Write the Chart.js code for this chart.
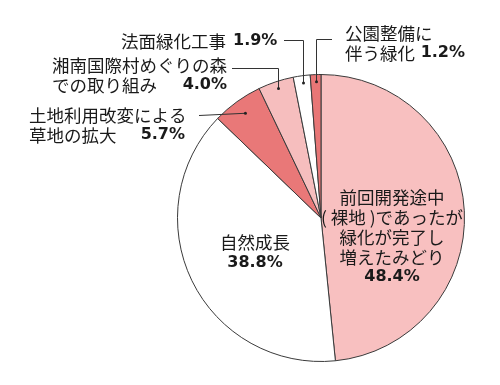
<!DOCTYPE html>
<html>
<head>
<meta charset="utf-8">
<script src="https://cdn.jsdelivr.net/npm/chart.js@4/dist/chart.umd.min.js"></script>
<style>
  html, body { margin: 0; padding: 0; background: #ffffff; }
  #wrap { width: 500px; height: 385px; }
</style>
</head>
<body>
<div id="wrap"><canvas id="pieChart" width="500" height="385"></canvas></div>
<script>
// Data
const categories = [
    '前回開発途中（裸地）であったが緑化が完了し増えたみどり',
    '自然成長',
    '土地利用改変による草地の拡大',
    '湘南国際村めぐりの森での取り組み',
    '法面緑化工事',
    '公園整備に伴う緑化'
];
const shares = [48.4, 38.8, 5.7, 4.0, 1.9, 1.2];
const sliceColors = ['#f8c0c0', '#ffffff', '#e97878', '#f6bebe', '#ffffff', '#e87676'];

const JP = '17.5px "Noto Sans CJK JP", "Noto Sans", sans-serif';
const PCT = 'bold 16px "DejaVu Sans", Verdana, sans-serif';
const INK = '#1a1a1a';

// Label layout (text placement, in canvas pixels)
const labelLayout = [
    { type: 'inside', lines: ['前回開発途中', '( 裸地 )であったが', '緑化が完了し', '増えたみどり'], x: 392, y: 197, step: 20 },
    { type: 'inside', lines: ['自然成長'], x: 255, y: 242, step: 21 },
    { type: 'outside', lines: ['土地利用改変による', '草地の拡大'], x: 29, y: 115, step: 20, pctRight: 185, lineFrom: 199, lineY: 115, elbow: false, dotR: 0.9 },
    { type: 'outside', lines: ['湘南国際村めぐりの森', 'での取り組み'], x: 52, y: 65, step: 20, pctRight: 227, lineFrom: 232, lineY: 68, elbow: true, dotR: 0.95 },
    { type: 'inline', lines: ['法面緑化工事'], x: 121, y: 41, step: 20, pctLeft: 233, lineFrom: 284, lineY: 40, elbow: true, dotR: 0.95 },
    { type: 'outside', lines: ['公園整備に', '伴う緑化'], x: 345, y: 33, step: 20, pctRight: 465, lineFrom: 332, lineY: 39, elbow: true, dotR: 0.95 }
];

const pieLabels = {
    id: 'pieLabels',
    afterDraw(chart) {
        const ctx = chart.ctx;
        const arcs = chart.getDatasetMeta(0).data;
        ctx.save();
        ctx.textBaseline = 'middle';
        ctx.fillStyle = INK;
        ctx.strokeStyle = '#333333';
        ctx.lineWidth = 1;

        labelLayout.forEach((lab, i) => {
            const pct = shares[i].toFixed(1) + '%';
            const arc = arcs[i];

            if (lab.type === 'inside') {
                ctx.textAlign = 'center';
                ctx.font = JP;
                lab.lines.forEach((t, k) => ctx.fillText(t, lab.x, lab.y + k * lab.step));
                ctx.font = PCT;
                ctx.fillText(pct, lab.x, lab.y + lab.lines.length * lab.step);
                return;
            }

            const mid = (arc.startAngle + arc.endAngle) / 2;
            const r = arc.outerRadius * lab.dotR;
            const dotX = arc.x + Math.cos(mid) * r;
            const dotY = arc.y + Math.sin(mid) * r;

            ctx.textAlign = 'left';
            ctx.font = JP;
            lab.lines.forEach((t, k) => ctx.fillText(t, lab.x, lab.y + k * lab.step));
            ctx.font = PCT;
            if (lab.type === 'inline') {
                ctx.fillText(pct, lab.pctLeft, lab.y);
            } else {
                ctx.textAlign = 'right';
                ctx.fillText(pct, lab.pctRight, lab.y + (lab.lines.length - 1) * lab.step);
            }

            // leader line
            const px = lab.elbow ? Math.round(dotX) + 0.5 : dotX;
            ctx.beginPath();
            ctx.moveTo(lab.lineFrom, lab.lineY + 0.5);
            if (lab.elbow) {
                ctx.lineTo(px, lab.lineY + 0.5);
            }
            ctx.lineTo(px, dotY);
            ctx.stroke();
            ctx.beginPath();
            ctx.arc(px, dotY, 1.5, 0, Math.PI * 2);
            ctx.fillStyle = '#222222';
            ctx.fill();
            ctx.fillStyle = INK;
        });
        ctx.restore();
    }
};

new Chart(document.getElementById('pieChart'), {
    type: 'pie',
    data: {
        labels: categories,
        datasets: [{
            data: shares,
            backgroundColor: sliceColors,
            borderColor: '#3a3a3a',
            borderWidth: 1
        }]
    },
    options: {
        responsive: false,
        animation: false,
        layout: { padding: { top: 74, bottom: 23, left: 177, right: 35 } },
        plugins: {
            legend: { display: false },
            tooltip: { enabled: false }
        }
    },
    plugins: [pieLabels]
});
</script>
</body>
</html>
